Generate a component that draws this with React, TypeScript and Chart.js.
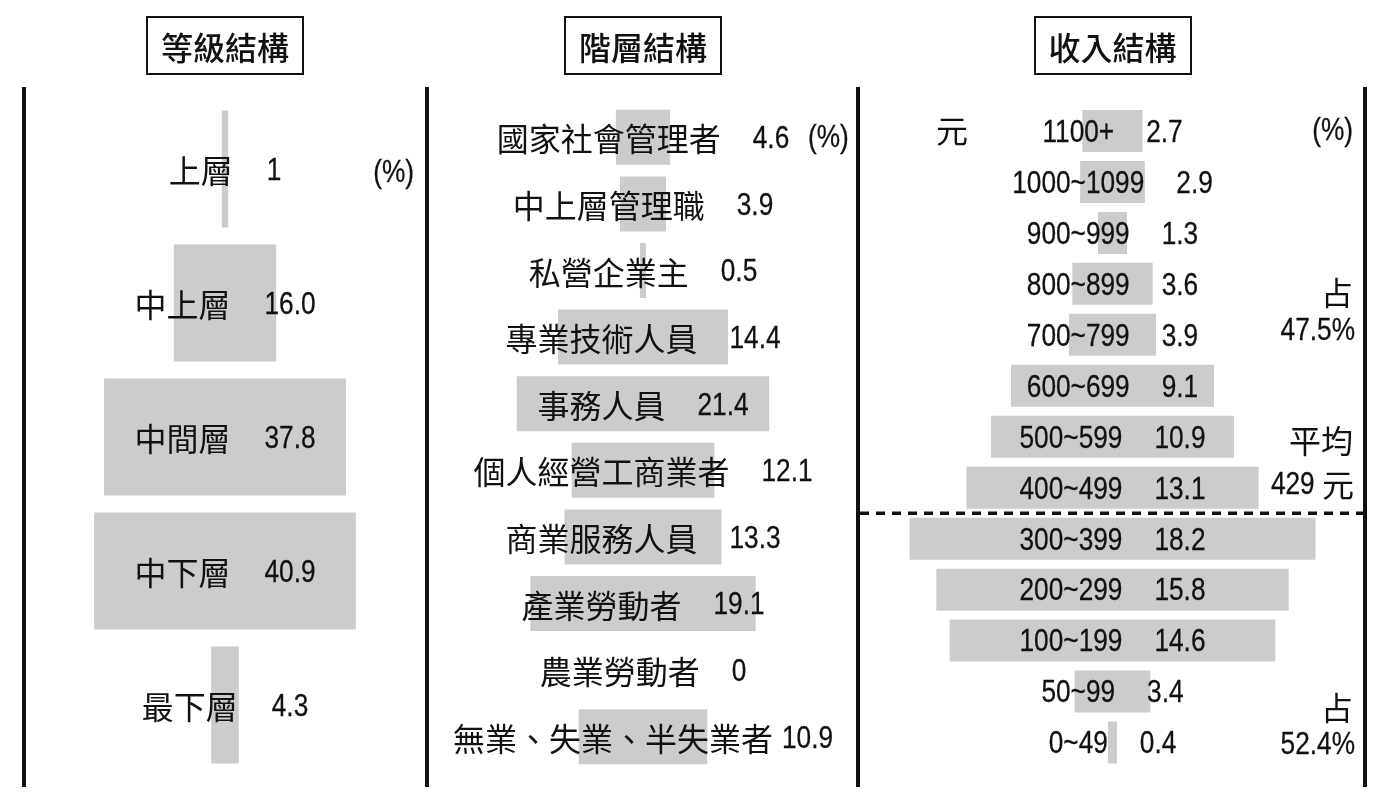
import React, { useEffect, useRef } from 'react';
import { Chart, registerables } from 'chart.js';

Chart.register(...registerables);

const LATIN_FONT = '32px "Liberation Sans", Arial, sans-serif';
const CJK_FONT = '32px "Noto Sans CJK TC", sans-serif';
const CONDENSE = 0.82;
const BAR_COLOR = '#cccccc';
const INK = '#111111';

// ---- data ----
const panelTitles = ['等級結構', '階層結構', '收入結構'];

const gradeCategories = ['上層', '中上層', '中間層', '中下層', '最下層'];
const gradeValues = [1, 16.0, 37.8, 40.9, 4.3];
const gradeValueLabels = ['1', '16.0', '37.8', '40.9', '4.3'];

const strataCategories = [
  '國家社會管理者',
  '中上層管理職',
  '私營企業主',
  '專業技術人員',
  '事務人員',
  '個人經營工商業者',
  '商業服務人員',
  '產業勞動者',
  '農業勞動者',
  '無業、失業、半失業者',
];
const strataValues = [4.6, 3.9, 0.5, 14.4, 21.4, 12.1, 13.3, 19.1, 0, 10.9];
const strataValueLabels = ['4.6', '3.9', '0.5', '14.4', '21.4', '12.1', '13.3', '19.1', '0', '10.9'];

const incomeCategories = [
  '1100+',
  '1000~1099',
  '900~999',
  '800~899',
  '700~799',
  '600~699',
  '500~599',
  '400~499',
  '300~399',
  '200~299',
  '100~199',
  '50~99',
  '0~49',
];
const incomeValues = [2.7, 2.9, 1.3, 3.6, 3.9, 9.1, 10.9, 13.1, 18.2, 15.8, 14.6, 3.4, 0.4];
const incomeValueLabels = ['2.7', '2.9', '1.3', '3.6', '3.9', '9.1', '10.9', '13.1', '18.2', '15.8', '14.6', '3.4', '0.4'];

type Extra = { text: string; x: number; y: number; align: 'left' | 'right' | 'center' };

type PanelCfg = {
  left: number;
  width: number;
  areaTop: number;
  areaBottom: number;
  range: number;
  barPct: number;
  categories: string[];
  values: number[];
  valueLabels: string[];
  gaps: number[];
  extras: Extra[];
  dashedAfter?: number;
};

const H = 803;

const panels: PanelCfg[] = [
  {
    left: 26,
    width: 398,
    areaTop: 102,
    areaBottom: 772,
    range: 31.1,
    barPct: 0.873,
    categories: gradeCategories,
    values: gradeValues,
    valueLabels: gradeValueLabels,
    gaps: gradeCategories.map(() => 34),
    extras: [{ text: '(%)', x: 414, y: 173, align: 'right' }],
  },
  {
    left: 429,
    width: 428,
    areaTop: 104,
    areaBottom: 770,
    range: 18.14,
    barPct: 0.826,
    categories: strataCategories,
    values: strataValues,
    valueLabels: strataValueLabels,
    gaps: strataCategories.map((_, i) => (i === strataCategories.length - 1 ? 9 : 32)),
    extras: [{ text: '(%)', x: 808, y: 138, align: 'left' }],
  },
  {
    left: 860,
    width: 505,
    areaTop: 105.5,
    areaBottom: 768,
    range: 11.32,
    barPct: 0.824,
    categories: incomeCategories,
    values: incomeValues,
    valueLabels: incomeValueLabels,
    gaps: incomeCategories.map(() => 32),
    dashedAfter: 7,
    extras: [
      { text: '元', x: 936, y: 131, align: 'left' },
      { text: '(%)', x: 1353, y: 131, align: 'right' },
      { text: '占', x: 1353, y: 293, align: 'right' },
      { text: '47.5%', x: 1355, y: 331, align: 'right' },
      { text: '平均', x: 1353, y: 441, align: 'right' },
      { text: '429 元', x: 1354, y: 485, align: 'right' },
      { text: '占', x: 1353, y: 708, align: 'right' },
      { text: '52.4%', x: 1355, y: 745, align: 'right' },
    ],
  },
];

// ---- mixed-script text helpers (condensed Latin, full-width CJK) ----
type Seg = { s: string; cjk: boolean };

function segments(text: string): Seg[] {
  const out: Seg[] = [];
  for (const ch of text) {
    const cjk = ch.charCodeAt(0) >= 0x2e80;
    const last = out[out.length - 1];
    if (last && last.cjk === cjk) last.s += ch;
    else out.push({ s: ch, cjk });
  }
  return out;
}

function segWidth(ctx: CanvasRenderingContext2D, seg: Seg): number {
  ctx.font = seg.cjk ? CJK_FONT : LATIN_FONT;
  const w = ctx.measureText(seg.s).width;
  return seg.cjk ? w : w * CONDENSE;
}

function measureMixed(ctx: CanvasRenderingContext2D, text: string): number {
  return segments(text).reduce((a, s) => a + segWidth(ctx, s), 0);
}

function drawMixed(
  ctx: CanvasRenderingContext2D,
  text: string,
  x: number,
  y: number,
  align: 'left' | 'right' | 'center'
) {
  const segs = segments(text);
  const widths = segs.map((s) => segWidth(ctx, s));
  const total = widths.reduce((a, b) => a + b, 0);
  let cur = align === 'left' ? x : align === 'right' ? x - total : x - total / 2;
  ctx.textAlign = 'left';
  ctx.textBaseline = 'middle';
  segs.forEach((seg, i) => {
    ctx.font = seg.cjk ? CJK_FONT : LATIN_FONT;
    if (seg.cjk) {
      ctx.fillText(seg.s, cur, y);
    } else {
      ctx.fillText(seg.s, cur, y, widths[i]);
      ctx.strokeText(seg.s, cur, y, widths[i]);
    }
    cur += widths[i];
  });
}

function makeTextPlugin(cfg: PanelCfg) {
  return {
    id: 'panelText',
    afterDatasetsDraw(chart: any) {
      const ctx: CanvasRenderingContext2D = chart.ctx;
      const xs = chart.scales.x;
      const ys = chart.scales.y;
      const cx = xs.getPixelForValue(0);
      ctx.save();
      ctx.fillStyle = INK;
      ctx.strokeStyle = INK;
      ctx.lineWidth = 0.3;
      cfg.categories.forEach((cat, i) => {
        const y = ys.getPixelForValue(i) + 2;
        const val = cfg.valueLabels[i];
        const w1 = measureMixed(ctx, cat);
        const w2 = measureMixed(ctx, val);
        const total = w1 + cfg.gaps[i] + w2;
        const start = cx - total / 2;
        drawMixed(ctx, cat, start, y, 'left');
        drawMixed(ctx, val, start + w1 + cfg.gaps[i], y, 'left');
      });
      cfg.extras.forEach((e) => {
        drawMixed(ctx, e.text, e.x - cfg.left, e.y, e.align);
      });
      if (cfg.dashedAfter !== undefined) {
        const yA = ys.getPixelForValue(cfg.dashedAfter);
        const yB = ys.getPixelForValue(cfg.dashedAfter + 1);
        const yd = (yA + yB) / 2;
        ctx.lineWidth = 3.5;
        ctx.setLineDash([9, 7]);
        ctx.beginPath();
        ctx.moveTo(0, yd);
        ctx.lineTo(chart.width, yd);
        ctx.stroke();
      }
      ctx.restore();
    },
  };
}

function Panel({ cfg }: { cfg: PanelCfg }) {
  const ref = useRef<HTMLCanvasElement | null>(null);
  useEffect(() => {
    if (!ref.current) return;
    const chart = new Chart(ref.current, {
      type: 'bar',
      data: {
        labels: cfg.categories,
        datasets: [
          {
            data: cfg.values.map((v) => [-v / 2, v / 2]) as any,
            backgroundColor: BAR_COLOR,
            borderWidth: 0,
            barPercentage: cfg.barPct,
            categoryPercentage: 1,
          },
        ],
      },
      options: {
        indexAxis: 'y',
        responsive: false,
        maintainAspectRatio: false,
        animation: false,
        devicePixelRatio: 1,
        layout: { padding: { top: cfg.areaTop, bottom: H - cfg.areaBottom, left: 0, right: 0 } },
        plugins: { legend: { display: false }, tooltip: { enabled: false } },
        scales: {
          x: { display: false, min: -cfg.range, max: cfg.range },
          y: { display: false },
        },
      },
      plugins: [makeTextPlugin(cfg)],
    });
    return () => chart.destroy();
  }, [cfg]);
  return (
    <canvas
      ref={ref}
      width={cfg.width}
      height={H}
      style={{ position: 'absolute', left: cfg.left, top: 0, width: cfg.width, height: H }}
    />
  );
}

const titleCenters = [225, 643, 1112.5];
const lineXs = [24, 427, 858, 1365];

export default function App() {
  return (
    <div style={{ position: 'fixed', left: 0, top: 0, width: 1390, height: H, background: '#fff', overflow: 'hidden' }}>
      {panels.map((p, i) => (
        <Panel key={i} cfg={p} />
      ))}
      {lineXs.map((x, i) => (
        <div
          key={'l' + i}
          style={{ position: 'absolute', left: x - 2, top: 87, width: 4, height: 700, background: INK }}
        />
      ))}
      {panelTitles.map((t, i) => (
        <div
          key={'t' + i}
          style={{
            position: 'absolute',
            left: titleCenters[i] - 79,
            top: 16,
            width: 158,
            height: 59,
            boxSizing: 'border-box',
            border: `2px solid ${INK}`,
            display: 'flex',
            alignItems: 'center',
            justifyContent: 'center',
            fontFamily: '"Noto Sans CJK TC", sans-serif',
            fontWeight: 500,
            fontSize: 32,
            color: INK,
            lineHeight: 1,
          }}
        >
          {t}
        </div>
      ))}
    </div>
  );
}
